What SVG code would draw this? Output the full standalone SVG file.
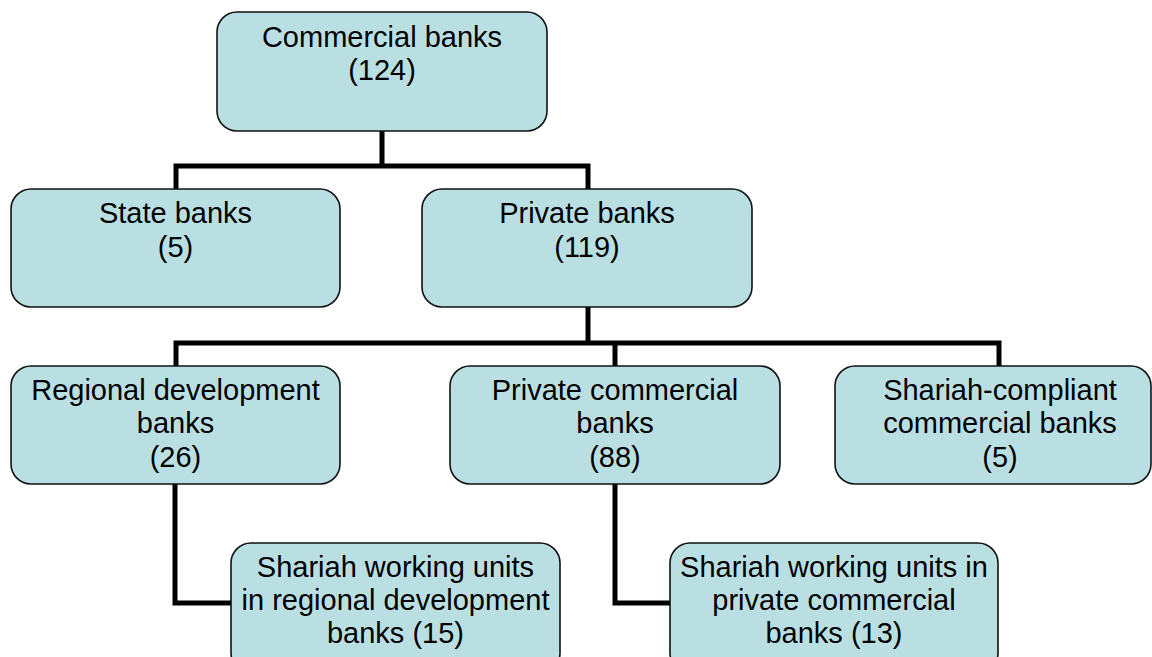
<svg xmlns="http://www.w3.org/2000/svg" width="1152" height="657" viewBox="0 0 1152 657">
<style>
.box{fill:#BADFE3;stroke:#111;stroke-width:1.6}
.t{font-family:"Liberation Sans",Arial,sans-serif;font-size:29px;fill:#000;text-anchor:middle}
.c{fill:none;stroke:#000;stroke-width:5;stroke-linejoin:miter;stroke-linecap:square}
</style>
<rect width="1152" height="657" fill="#fff"/>
<g id="connectors">
<path class="c" d="M382,131 V166 M176,189 V166 H588 V189"/>
<path class="c" d="M588,307 V343 M176,366 V343 H999 V366 M615,343 V366"/>
<path class="c" d="M175,484 V603 H231"/>
<path class="c" d="M615,484 V603 H670"/>
</g>
<g id="commercial">
<rect class="box" x="217" y="12" width="330" height="119" rx="20"/>
<text class="t" x="382" y="47">Commercial banks</text>
<text class="t" x="382" y="80">(124)</text>
</g>
<g id="state">
<rect class="box" x="11" y="189" width="329" height="118" rx="20"/>
<text class="t" x="175.5" y="223">State banks</text>
<text class="t" x="175.5" y="257">(5)</text>
</g>
<g id="private">
<rect class="box" x="422" y="189" width="330" height="118" rx="20"/>
<text class="t" x="587" y="223">Private banks</text>
<text class="t" x="587" y="257">(119)</text>
</g>
<g id="regional">
<rect class="box" x="11" y="366" width="329" height="118" rx="20"/>
<text class="t" x="175.5" y="400">Regional development</text>
<text class="t" x="175.5" y="433">banks</text>
<text class="t" x="175.5" y="467">(26)</text>
</g>
<g id="privatecommercial">
<rect class="box" x="450" y="366" width="330" height="118" rx="20"/>
<text class="t" x="615" y="400">Private commercial</text>
<text class="t" x="615" y="433">banks</text>
<text class="t" x="615" y="467">(88)</text>
</g>
<g id="shariahcompliant">
<rect class="box" x="835" y="366" width="316" height="118" rx="20"/>
<text class="t" x="1000" y="400">Shariah-compliant</text>
<text class="t" x="1000" y="433">commercial banks</text>
<text class="t" x="1000" y="467">(5)</text>
</g>
<g id="swu-regional">
<rect class="box" x="231" y="543" width="329" height="130" rx="20"/>
<text class="t" x="395.5" y="577">Shariah working units</text>
<text class="t" x="395.5" y="610">in regional development</text>
<text class="t" x="395.5" y="643">banks (15)</text>
</g>
<g id="swu-private">
<rect class="box" x="670" y="543" width="328" height="130" rx="20"/>
<text class="t" x="834" y="577">Shariah working units in</text>
<text class="t" x="834" y="610">private commercial</text>
<text class="t" x="834" y="643">banks (13)</text>
</g>
</svg>
